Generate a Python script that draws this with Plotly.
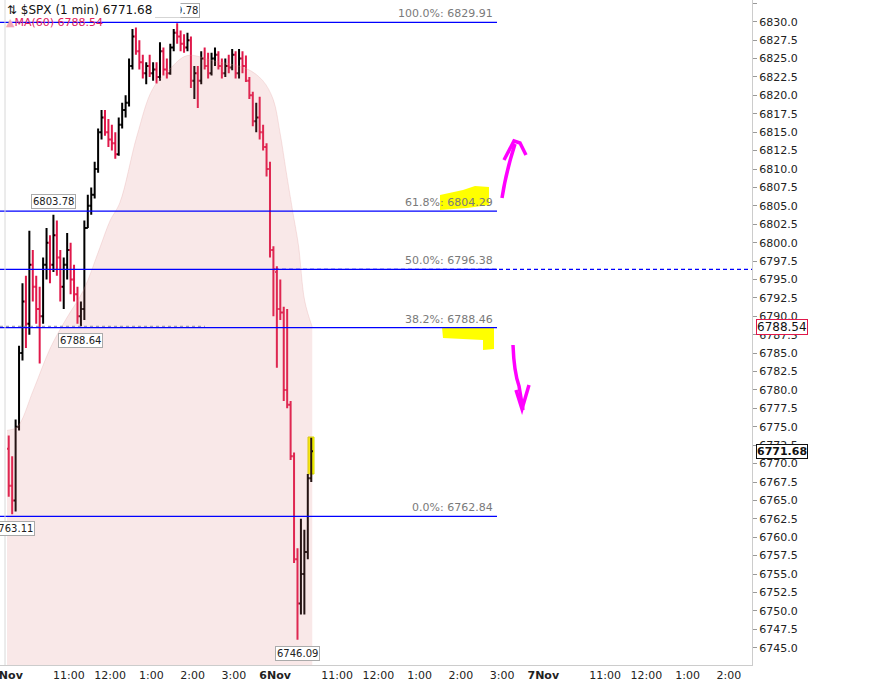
import plotly.graph_objects as go
import pandas as pd

# $SPX, read off the 1 min chart and grouped into 5 min bars
# Nov 5 full session (78 bars) + Nov 6 09:30-10:25 (11 bars)
bar_open = [6772, 6767, 6765, 6775, 6785, 6792, 6789, 6797, 6794, 6791,
            6790, 6797, 6800, 6797, 6801, 6798, 6794, 6797, 6799, 6795,
            6793, 6790, 6791, 6802, 6805, 6806.5, 6810, 6815, 6817, 6815,
            6814, 6813.5, 6812, 6816, 6818, 6819, 6824, 6828, 6826, 6824.5,
            6823, 6824, 6823, 6823.5, 6822.5, 6826, 6823.5, 6823, 6826.5, 6828.5,
            6828, 6827, 6826.5, 6827.5, 6822, 6823, 6822, 6825, 6824, 6823,
            6825, 6825.5, 6824, 6823, 6824, 6823.8, 6825.5, 6823, 6825, 6824,
            6822, 6820, 6816.5, 6817, 6815, 6813, 6810, 6799,
            6796, 6791, 6790.5, 6780, 6778, 6771, 6757, 6751, 6755, 6758, 6768]
bar_high = [6773.8, 6771, 6776, 6786, 6794.5, 6795.5, 6801.6, 6799, 6795.5, 6794,
            6798, 6802, 6801, 6803.78, 6803, 6799, 6798, 6801.3, 6800, 6797,
            6794, 6792, 6803, 6806.5, 6807.5, 6811, 6815.5, 6818, 6818, 6816.8,
            6816, 6815, 6817, 6819, 6820, 6825, 6829, 6829.2, 6827.5, 6825.5,
            6824.5, 6825.5, 6824.5, 6824.5, 6827.2, 6826.5, 6825, 6827, 6829, 6829.78,
            6828.8, 6828.3, 6828.5, 6828, 6824, 6824, 6826, 6826.5, 6825.8, 6825.8,
            6826.5, 6826, 6825, 6825, 6825.5, 6826.3, 6826, 6826.3, 6826, 6825.4,
            6822.5, 6820.5, 6819, 6819.8, 6816, 6813.5, 6811, 6799.5,
            6796.8, 6795, 6791.3, 6791, 6778.5, 6771.5, 6758.5, 6762.5, 6761, 6768.6, 6773.5]
bar_low = [6765.5, 6763.11, 6763.5, 6774.5, 6784, 6785.7, 6787.5, 6792, 6789, 6783.6,
           6789, 6795, 6794.5, 6796, 6795.5, 6792, 6791, 6795, 6793, 6792,
           6789, 6788.64, 6789.5, 6802, 6803.8, 6806, 6809.5, 6814, 6814.5, 6813,
           6812.5, 6811.4, 6811.8, 6815.5, 6817, 6818.5, 6823.5, 6825.5, 6823.5, 6822.3,
           6821.5, 6822.5, 6822, 6821.6, 6822, 6822.7, 6822.3, 6822.8, 6826, 6827,
           6826, 6825.8, 6826, 6821, 6819.5, 6818.3, 6821.5, 6823.5, 6822.3, 6822.7,
           6824, 6823.5, 6822.3, 6822.5, 6823, 6823.4, 6822.3, 6822.3, 6823, 6821.8,
           6819.5, 6815.8, 6815, 6814, 6812.5, 6809, 6798, 6790,
           6783, 6789.5, 6778.5, 6777.5, 6770.5, 6756.5, 6746.09, 6749.5, 6749.5, 6757, 6767.5]
bar_close = [6767, 6765, 6775, 6785, 6792, 6789, 6797, 6794, 6791, 6790,
             6797, 6800, 6797, 6801, 6798, 6794, 6797, 6799, 6795, 6793,
             6790, 6791, 6802, 6805, 6806.5, 6810, 6815, 6817, 6815, 6814,
             6813.5, 6812, 6816, 6818, 6819, 6824, 6828, 6826, 6824.5, 6823,
             6824, 6823, 6823.5, 6822.5, 6826, 6823.5, 6823, 6826.5, 6828.5, 6828,
             6827, 6826.5, 6827.5, 6822, 6823, 6822, 6825, 6824, 6823, 6825,
             6825.5, 6824, 6823, 6824, 6823.8, 6825.5, 6823, 6825, 6824, 6822,
             6820, 6816.5, 6817, 6815, 6813, 6810, 6799, 6796.4,
             6791, 6790.5, 6780, 6778, 6771, 6757, 6751, 6755, 6758, 6768, 6771.68]

bar_times = list(pd.date_range("2025-11-05 09:30", "2025-11-05 15:55", freq="5min")) + \
            list(pd.date_range("2025-11-06 09:30", "2025-11-06 10:20", freq="5min"))

# moving average (pink mountain)
ma_times = ["2025-11-05 09:30", "2025-11-05 09:45", "2025-11-05 10:08", "2025-11-05 10:33",
            "2025-11-05 10:57", "2025-11-05 11:21", "2025-11-05 11:45", "2025-11-05 12:00",
            "2025-11-05 12:14", "2025-11-05 12:39", "2025-11-05 13:02", "2025-11-05 13:27",
            "2025-11-05 13:52", "2025-11-05 14:30", "2025-11-05 15:19", "2025-11-05 15:42",
            "2025-11-05 15:57", "2025-11-06 09:37", "2025-11-06 09:47", "2025-11-06 09:56",
            "2025-11-06 10:04", "2025-11-06 10:13", "2025-11-06 10:24"]
ma_vals = [6774.5, 6775, 6779.9, 6785.7, 6789.8, 6793.5, 6799.3, 6803, 6805.4, 6814.5,
           6820.9, 6823.6, 6825.4, 6824.7, 6823.6, 6822, 6819.5, 6815, 6809.1, 6804,
           6799.6, 6792.1, 6788.54]

# fibonacci retracement
fib_pct = ["100.0%", "61.8%", "50.0%", "38.2%", "0.0%"]
fib_val = [6829.91, 6804.29, 6796.38, 6788.46, 6762.84]

# price call-outs (bar index, value, above/below)
callout_bar = [49, 13, 21, 1, 84]
callout_val = [6829.78, 6803.78, 6788.64, 6763.11, 6746.09]
callout_up = [True, True, False, False, False]

tick_times = ["2025-11-05 09:30", "2025-11-05 11:00", "2025-11-05 12:00", "2025-11-05 13:00",
              "2025-11-05 14:00", "2025-11-05 15:00", "2025-11-06 09:30", "2025-11-06 11:00",
              "2025-11-06 12:00", "2025-11-06 13:00", "2025-11-06 14:00", "2025-11-06 15:00",
              "2025-11-07 09:30", "2025-11-07 11:00", "2025-11-07 12:00", "2025-11-07 13:00",
              "2025-11-07 14:00"]
tick_text = ["<b>5Nov</b>", "11:00", "12:00", "1:00", "2:00", "3:00",
             "<b>6Nov</b>", "11:00", "12:00", "1:00", "2:00", "3:00",
             "<b>7Nov</b>", "11:00", "12:00", "1:00", "2:00"]

last_price = 6771.68
last_ma = 6788.54

FONT = "DejaVu Sans"
UP = "#000000"
DOWN = "#e0184a"
FIB = "#0000ff"


# trading minutes since Nov 5 open, so nights are squeezed out
def session_min(t):
    t = pd.Timestamp(t)
    day = (t.normalize() - pd.Timestamp("2025-11-05")).days
    return day * 390 + t.hour * 60 + t.minute + t.second / 60 - 570


bar_x = [session_min(t) + 2.5 for t in bar_times]
ma_x = [session_min(t) for t in ma_times]

# plot area is 752 x 665 px, helpers for the hand drawn marks
def xp(px):
    return px / 752.0


def yp(py):
    return 1 - py / 665.0


fig = go.Figure()

fig.add_trace(go.Scatter(x=ma_x, y=ma_vals, mode="lines", fill="tozeroy",
                         line=dict(color="rgba(225,150,150,0.25)", width=1, shape="spline"),
                         fillcolor="rgba(220,120,120,0.17)", hoverinfo="skip"))

fig.add_trace(go.Ohlc(x=bar_x, open=bar_open, high=bar_high, low=bar_low, close=bar_close,
                      increasing=dict(line=dict(color=UP, width=2)),
                      decreasing=dict(line=dict(color=DOWN, width=2)),
                      tickwidth=0.5))

shapes = []
# highlighter marks
yellow = "#ffff00"
shapes.append(dict(type="path", xref="paper", yref="paper", layer="below", fillcolor=yellow, line=dict(width=0),
                   path="M %f,%f L %f,%f L %f,%f L %f,%f L %f,%f L %f,%f L %f,%f Z" % (
                       xp(440), yp(195), xp(463), yp(190), xp(475), yp(186), xp(489), yp(187),
                       xp(489), yp(205), xp(467), yp(208), xp(440), yp(210))))
shapes.append(dict(type="path", xref="paper", yref="paper", layer="below", fillcolor=yellow, line=dict(width=0),
                   path="M %f,%f L %f,%f L %f,%f L %f,%f L %f,%f L %f,%f Z" % (
                       xp(442), yp(327), xp(494), yp(327), xp(494), yp(349), xp(483), yp(350),
                       xp(483), yp(340), xp(443), yp(338))))
shapes.append(dict(type="rect", xref="paper", yref="paper", layer="below", fillcolor=yellow,
                   line=dict(width=1, color="#d8d800"),
                   x0=xp(308), x1=xp(314), y0=yp(474), y1=yp(437)))

# fib levels
for v in fib_val:
    shapes.append(dict(type="line", xref="paper", yref="y", x0=0, x1=xp(497), y0=v, y1=v,
                       line=dict(color=FIB, width=1.2)))
shapes.append(dict(type="line", xref="paper", yref="y", x0=xp(275), x1=1, y0=fib_val[2], y1=fib_val[2],
                   line=dict(color=FIB, width=1.2, dash="4px,3px")))
shapes.append(dict(type="line", xref="paper", yref="y", x0=0, x1=xp(205), y0=callout_val[2], y1=callout_val[2],
                   line=dict(color="#8888aa", width=1, dash="dot")))
shapes.append(dict(type="line", xref="paper", yref="paper", x0=xp(5), x1=xp(5), y0=0, y1=1,
                   line=dict(color="#d8d8d8", width=1)))

# magenta arrows
pen = dict(color="#ff00ff", width=3.5)
shapes.append(dict(type="path", xref="paper", yref="paper", line=pen,
                   path="M %f,%f Q %f,%f %f,%f" % (xp(502), yp(198), xp(506), yp(172), xp(515), yp(144))))
shapes.append(dict(type="path", xref="paper", yref="paper", line=pen,
                   path="M %f,%f L %f,%f L %f,%f L %f,%f" % (xp(504), yp(160), xp(514), yp(141),
                                                         xp(520), yp(143), xp(526), yp(155))))
shapes.append(dict(type="path", xref="paper", yref="paper", line=pen,
                   path="M %f,%f Q %f,%f %f,%f L %f,%f" % (xp(513), yp(345), xp(514), yp(372),
                                                         xp(519), yp(386), xp(523), yp(410))))
shapes.append(dict(type="path", xref="paper", yref="paper", line=pen,
                   path="M %f,%f L %f,%f L %f,%f" % (xp(516), yp(390), xp(522), yp(409), xp(529), yp(385))))

annotations = []
for pct, v in zip(fib_pct, fib_val):
    annotations.append(dict(xref="paper", yref="y", x=xp(495), y=v, xanchor="right", yanchor="bottom",
                            text="%s: %.2f" % (pct, v), showarrow=False,
                            font=dict(family=FONT, size=11, color="#7a7a7a")))

for b, v, up in zip(callout_bar, callout_val, callout_up):
    annotations.append(dict(x=bar_x[b], y=v, text="%.2f" % v, showarrow=False,
                            yshift=13 if up else -14, bgcolor="white", bordercolor="#aaaaaa",
                            borderwidth=1, borderpad=1, font=dict(family=FONT, size=10, color="#222")))

# right axis value flags
annotations.append(dict(xref="paper", yref="y", x=1, y=last_ma, xanchor="left", xshift=4,
                        text="%.2f" % last_ma, showarrow=False, bgcolor="white", bordercolor=DOWN,
                        borderwidth=1, borderpad=0, font=dict(family=FONT, size=12, color="#111")))
annotations.append(dict(xref="paper", yref="y", x=1, y=last_price, xanchor="left", xshift=4,
                        text="<b>%.2f</b>" % last_price, showarrow=False, bgcolor="white", bordercolor="#111",
                        borderwidth=1, borderpad=0, font=dict(family=FONT, size=11, color="#111")))

# title + study legend (title box hides most of the high call-out, as on the original)
annotations.append(dict(xref="paper", yref="paper", x=xp(6), y=yp(2), xanchor="left", yanchor="top",
                        text="⇅ $SPX (1 min) %.2f" % last_price, showarrow=False, bgcolor="white",
                        width=173, align="left",
                        borderpad=0, font=dict(family=FONT, size=12, color="#111")))
annotations.append(dict(xref="paper", yref="paper", x=xp(5), y=yp(15), xanchor="left", yanchor="top",
                        text="<span style='color:#f2a6b4'>▲</span>MA(60) %.2f" % last_ma, showarrow=False,
                        borderpad=0, font=dict(family=FONT, size=11, color="#e0245e")))

fig.update_layout(
    width=869, height=683,
    margin=dict(l=0, r=117, t=0, b=18),
    plot_bgcolor="white", paper_bgcolor="white",
    showlegend=False,
    shapes=shapes, annotations=annotations,
    xaxis=dict(range=[-10.2, 1083.6], showgrid=False, zeroline=False, rangeslider=dict(visible=False),
               tickmode="array", tickvals=[session_min(t) for t in tick_times], ticktext=tick_text,
               ticks="", showline=True, linecolor="#cccccc", ticklabeloverflow="allow",
               automargin=False,
               tickfont=dict(family=FONT, size=11, color="#222")),
    yaxis=dict(side="right", range=[6742.65, 6832.95], tick0=6745, dtick=2.5, tickformat=".1f",
               showgrid=False, zeroline=False, showline=True, linecolor="#cccccc",
               ticks="outside", ticklen=4, tickcolor="#999999", automargin=False,
               tickfont=dict(family=FONT, size=11, color="#222")),
)

# page body has a default 8px margin; drop it so the chart sits at the window corner
fig.write_html("out.html", config={"displayModeBar": False},
               post_script="document.body.style.margin='0px';")
